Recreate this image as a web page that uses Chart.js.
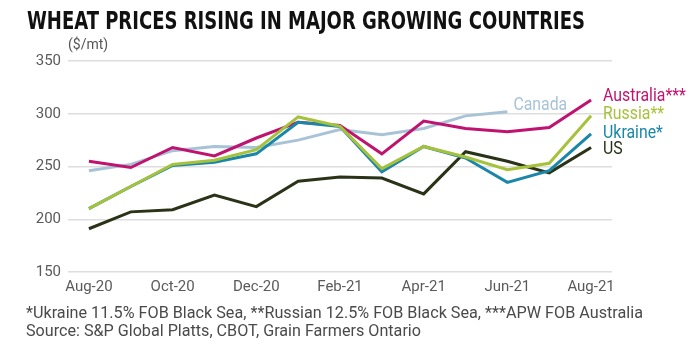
<!DOCTYPE html>
<html>
<head>
<meta charset="utf-8">
<script src="https://cdn.jsdelivr.net/npm/chart.js@4.4.1/dist/chart.umd.min.js"></script>
<style>
  html, body { margin: 0; padding: 0; background: #fff; }
  #wrap { position: relative; width: 700px; height: 351px; overflow: hidden; }
  canvas { position: absolute; left: 0; top: 0; }
  .txt { position: absolute; white-space: nowrap; transform-origin: 0 0; }
  #title { left: 27px; top: 6px; font: bold 25px "Liberation Sans Narrow", "DejaVu Sans Condensed", Roboto, sans-serif; color: #111; }
  #unit { left: 68px; top: 36px; font: 14px Roboto, sans-serif; color: #555; }
  .note { left: 26px; font: 16px Roboto, sans-serif; color: #4a4a4a; }
</style>
</head>
<body>
<div id="wrap">
  <canvas id="chart" width="700" height="351"></canvas>
  <div id="title" class="txt" data-w="558">WHEAT PRICES RISING IN MAJOR GROWING COUNTRIES</div>
  <div id="unit" class="txt">($/mt)</div>
  <div id="note1" class="txt note" style="top:303px" data-w="617">*Ukraine 11.5% FOB Black Sea, **Russian 12.5% FOB Black Sea, ***APW FOB Australia</div>
  <div id="note2" class="txt note" style="top:321px" data-w="395">Source: S&amp;P Global Platts, CBOT, Grain Farmers Ontario</div>
</div>
<script>
// data
const months = ["Aug-20","Sep-20","Oct-20","Nov-20","Dec-20","Jan-21","Feb-21","Mar-21","Apr-21","May-21","Jun-21","Jul-21","Aug-21"];
const australia = [255, 249, 268, 260, 277, 292, 289, 262, 293, 286, 283, 287, 313];
const russia    = [210, 231, 252, 256, 266, 297, 288, 248, 269, 259, 247, 253, 298];
const ukraine   = [210, 231, 251, 254, 262, 292, 288, 245, 269, 258, 235, 246, 281];
const us        = [191, 207, 209, 223, 212, 236, 240, 239, 224, 264, 255, 244, 268];
const canada    = [246, 252, 265, 269, 268, 275, 285, 280, 286, 298, 302, null, null];
const yTicks = [150, 200, 250, 300, 350];

// end labels (text, value where it sits, colour)
const endLabels = [
    { text: "Australia***", at: 316, color: "#c0136f" },
    { text: "Russia**", at: 299, color: "#a6c23c" },
    { text: "Ukraine*", at: 281, color: "#1a86a8" },
    { text: "US", at: 266, color: "#2a3318" }
];
const canadaLabel = { text: "Canada", at: 308, color: "#a9c3d6" };

// stretch html text to the width seen in the reference
document.querySelectorAll(".txt[data-w]").forEach(el => {
    const w = el.getBoundingClientRect().width;
    el.style.transform = `scaleX(${parseFloat(el.dataset.w) / w})`;
});

// narrow text, like the condensed face of the original
function narrowText(ctx, text, x, y) {
    ctx.save();
    ctx.translate(x, y);
    ctx.scale(0.88, 1);
    ctx.fillText(text, 0, 0);
    ctx.restore();
}

const labelPlugin = {
    id: "endLabels",
    afterDatasetsDraw(chart) {
        const { ctx, scales } = chart;
        const lastX = scales.x.getPixelForValue(months.length - 1);
        ctx.save();
        ctx.font = "18px Roboto, sans-serif";
        ctx.textBaseline = "middle";
        ctx.textAlign = "left";
        endLabels.forEach(l => {
            ctx.fillStyle = l.color;
            narrowText(ctx, l.text, lastX + 12, scales.y.getPixelForValue(l.at));
        });
        const cx = scales.x.getPixelForValue(10);
        ctx.fillStyle = canadaLabel.color;
        narrowText(ctx, canadaLabel.text, cx + 6, scales.y.getPixelForValue(canadaLabel.at));
        ctx.restore();
    }
};

function line(label, data, color, order) {
    return {
        label, data, order,
        borderColor: color,
        backgroundColor: color,
        borderWidth: 3,
        pointRadius: 0,
        tension: 0,
        spanGaps: false
    };
}

new Chart(document.getElementById("chart"), {
    type: "line",
    data: {
        labels: months,
        datasets: [
            line("Russia", russia, "#a6c23c", 0),
            line("Ukraine", ukraine, "#1a86a8", 1),
            line("Australia", australia, "#c0136f", 2),
            line("US", us, "#2a3318", 3),
            line("Canada", canada, "#a9c3d6", 4)
        ]
    },
    options: {
        responsive: false,
        animation: false,
        layout: { padding: { top: 61, right: 88, bottom: 51, left: 0 } },
        plugins: { legend: { display: false }, tooltip: { enabled: false } },
        scales: {
            x: {
                offset: true,
                grid: { display: false, drawTicks: false },
                border: { display: false },
                afterFit: s => { s.height = 28; },
                ticks: {
                    autoSkip: false,
                    maxRotation: 0,
                    padding: 6,
                    color: "#5a5a5a",
                    font: { family: "Roboto, sans-serif", size: 15 },
                    callback: (v, i) => (i % 2 === 0 ? months[i] : "")
                }
            },
            y: {
                min: 150,
                max: 350,
                afterBuildTicks: s => { s.ticks = yTicks.map(v => ({ value: v })); },
                afterFit: s => { s.width = 68; },
                grid: { color: "#dedede", lineWidth: 1.5, drawTicks: false },
                border: { display: false },
                ticks: {
                    padding: 7,
                    color: "#5a5a5a",
                    font: { family: "Roboto, sans-serif", size: 15 }
                }
            }
        }
    },
    plugins: [labelPlugin]
});
</script>
</body>
</html>
